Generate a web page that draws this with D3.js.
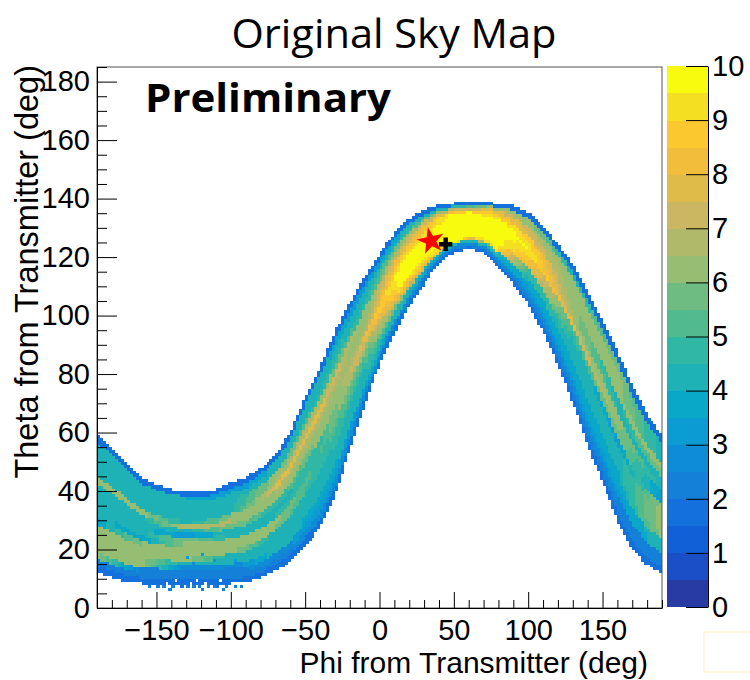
<!DOCTYPE html>
<html>
<head>
<meta charset="utf-8">
<script src="https://cdn.jsdelivr.net/npm/d3@7"></script>
<style>
  body { margin: 0; background: #ffffff; }
  svg { display: block; }
</style>
</head>
<body>
<svg id="chart" width="750" height="680"></svg>
<script>
// ---- sky-map data -------------------------------------------------------
// band edges (theta, deg) sampled every 10 deg of phi from -190 to 190
const edgePhi = d3.range(-190, 191, 10);
const lowerEdge = [12, 10.6, 9, 8.5, 8.5, 8.5, 8.5, 8.5, 8.5, 8.5, 8.8, 10.3, 13, 16, 21.5, 27.5,
  38, 54.8, 70, 83.6, 94.3, 103.6, 111.2, 118, 121.8, 123, 121.5, 116.5, 111, 103.8, 94.8, 83,
  70.2, 55, 43, 30.5, 20.4, 14.8, 12];
const upperEdge = [59, 55, 49.5, 44.5, 42, 40.5, 39.8, 39.6, 40.5, 42.8, 44.5, 48, 52, 60, 72,
  82.5, 94.5, 104.5, 113.5, 121, 128, 133, 136, 137.8, 138.5, 138.7, 138.7, 138.4, 137.5, 135,
  130.5, 124.5, 117.5, 107.7, 97.5, 87.5, 76, 66, 59];

// counts across the band (20 slices, lower edge -> upper edge) at a few phi columns
const profilePhi = [-190, -160, -130, -100, -70, -40, -10, 15, 50, 80, 100, 130, 160, 190];
const profileM190 = [1.8, 2.3, 6.2, 6.2, 6.2, 6.2, 6.2, 3.5, 4.3, 4.3, 4.3, 4.3, 4.3, 6.0, 4.3, 4.3, 4.3, 4.3, 4.3, 1.8];
const profileM160 = [1.8, 2.3, 2.3, 6.2, 6.2, 6.2, 6.2, 6.0, 3.5, 4.3, 4.3, 4.3, 4.3, 6.2, 4.3, 4.3, 4.3, 4.3, 4.3, 1.8];
const profileM130 = [1.8, 2.3, 2.3, 2.5, 4.0, 6.2, 6.2, 6.2, 6.2, 6.0, 3.2, 4.3, 6.8, 4.3, 4.3, 4.3, 4.3, 4.3, 4.0, 1.8];
const profileM100 = [1.8, 2.3, 2.3, 2.5, 4.3, 4.3, 6.2, 6.2, 6.2, 4.3, 4.5, 6.0, 6.5, 6.0, 4.3, 4.3, 4.3, 4.3, 3.0, 1.8];
const profileM70  = [1.8, 2.3, 2.8, 4.3, 4.3, 4.3, 4.3, 6.0, 6.2, 4.5, 4.3, 4.5, 6.2, 6.5, 7.6, 6.5, 6.2, 4.3, 4.3, 1.8];
const profileM40  = [1.8, 2.8, 3.3, 3.8, 4.3, 4.3, 4.3, 4.5, 4.7, 5.0, 4.8, 6.2, 6.5, 7.0, 7.7, 6.5, 4.7, 4.3, 4.3, 1.8];
const profileM10  = [1.8, 2.5, 3.5, 4.3, 4.3, 4.5, 5.0, 5.5, 6.2, 7.5, 8.0, 6.8, 6.2, 6.2, 6.2, 4.5, 4.3, 4.3, 3.0, 1.8];
const profileP15  = [1.8, 2.8, 4.3, 4.5, 6.2, 8.0, 8.8, 9.5, 9.8, 9.8, 9.8, 9.6, 9.2, 8.5, 7.5, 7.0, 6.0, 4.5, 4.0, 1.8];
const profileP50  = [1.8, 2.0, 2.5, 4.0, 9.8, 9.8, 9.8, 9.8, 9.8, 9.8, 9.8, 9.8, 9.8, 9.8, 9.8, 9.8, 8.5, 7.0, 4.5, 1.8];
const profileP80  = [1.8, 2.2, 2.5, 4.0, 4.5, 9.0, 9.6, 9.8, 9.8, 9.8, 9.8, 9.8, 9.8, 9.8, 9.8, 9.2, 8.5, 7.8, 6.5, 2.0];
const profileP100 = [1.8, 2.2, 2.5, 3.3, 3.5, 3.8, 4.7, 5.0, 8.0, 8.5, 8.8, 9.3, 9.5, 9.3, 8.8, 7.5, 7.2, 6.2, 6.2, 1.8];
const profileP130 = [1.8, 2.3, 2.8, 3.3, 3.5, 3.8, 4.3, 4.3, 4.3, 4.7, 5.0, 7.6, 6.5, 6.2, 6.2, 6.2, 6.2, 6.0, 4.3, 1.8];
const profileP160 = [1.8, 2.3, 2.5, 3.3, 3.5, 3.8, 4.3, 4.3, 4.3, 3.2, 6.0, 6.2, 6.2, 4.5, 4.3, 6.0, 6.2, 6.2, 6.0, 1.8];
const profileP190 = [1.8, 2.3, 2.3, 4.3, 4.3, 6.2, 6.2, 6.2, 6.2, 6.2, 3.2, 3.2, 4.3, 4.3, 6.0, 6.2, 4.3, 4.3, 4.3, 2.0];
const bandProfiles = [profileM190, profileM160, profileM130, profileM100, profileM70, profileM40,
  profileM10, profileP15, profileP50, profileP80, profileP100, profileP130, profileP160, profileP190];

// isolated low-count bins under the valley: [phi bin start, theta bin start, value]
const speckBins = [[-156, 7, 2.3], [-150, 7, 2.0], [-146, 7, 2.3], [-140, 7, 2.3], [-134, 7, 1.8],
  [-130, 7, 2.3], [-126, 7, 2.3], [-122, 7, 2.0], [-116, 7, 2.3], [-112, 7, 2.3], [-110, 7, 1.8],
  [-104, 7, 2.3], [-98, 7, 2.0], [-94, 7, 2.3], [-142, 6, 2.0], [-120, 6, 2.3], [-106, 6, 2.0],
  [-136, 14, 2.5], [-126, 15, 2.8], [-116, 13, 2.5], [-112, 16, 3.0], [-106, 14, 2.5],
  [-130, 17, 3.2], [-120, 18, 3.2], [-98, 16, 3.2]];
// empty bins along the ragged lower edge: [phi bin start, theta bin start]
const emptyBins = [[-144, 8], [-128, 8], [-118, 8], [-108, 9], [-100, 8], [-138, 9], [-124, 9]];

// source and reconstructed direction
const truthPoint = [34.5, 125.5];
const recoPoint = [44.5, 124.4];

// axes and palette
const xTicks = [-150, -100, -50, 0, 50, 100, 150];
const yTicks = [0, 20, 40, 60, 80, 100, 120, 140, 160, 180];
const zTicks = [0, 1, 2, 3, 4, 5, 6, 7, 8, 9, 10];
const birdPalette = ['#283ba4', '#1a4fc8', '#1060d8', '#1470dc', '#1480d8', '#0e8cd6', '#0c9cd4',
  '#0aa8c8', '#1eb2b6', '#30b8a4', '#52bb8e', '#6fbc82', '#95be72', '#b0b96a', '#cbb761',
  '#dfbb4a', '#f3bd3c', '#fcc830', '#f5df22', '#f9fb0e'];

// ---- drawing ------------------------------------------------------------
const svg = d3.select('#chart');
const x = d3.scaleLinear().domain([-190, 190]).range([97, 662]);
const y = d3.scaleLinear().domain([0, 185]).range([608, 67]);
const z = d3.scaleLinear().domain([0, 10]).range([607, 66]);
const color = d3.scaleQuantize().domain([0, 10]).range(birdPalette);

const lowerAt = d3.scaleLinear().domain(edgePhi).range(lowerEdge);
const upperAt = d3.scaleLinear().domain(edgePhi).range(upperEdge);
const sliceAt = d3.range(20).map(i =>
  d3.scaleLinear().domain(profilePhi).range(bandProfiles.map(p => p[i])));

// fill 2 deg x 1 deg bins inside the band
const binMap = new Map();
for (let p = -190; p < 190; p += 2) {
  const pc = p + 1;
  const lo = lowerAt(pc), hi = upperAt(pc);
  for (let t = 0; t < 185; t += 1) {
    const tc = t + 0.5;
    if (tc < lo || tc > hi) continue;
    const u = (tc - lo) / (hi - lo);
    const k = Math.min(19, Math.floor(u * 20));
    binMap.set(p + ':' + t, { phi: p, theta: t, value: sliceAt[k](pc) });
  }
}
speckBins.forEach(([p, t, v]) => binMap.set(p + ':' + t, { phi: p, theta: t, value: v }));
emptyBins.forEach(([p, t]) => binMap.delete(p + ':' + t));
const bins = Array.from(binMap.values());

svg.append('defs').append('clipPath').attr('id', 'frame-clip')
  .append('rect').attr('x', 97).attr('y', 67).attr('width', 565).attr('height', 541);

svg.append('g').attr('clip-path', 'url(#frame-clip)').attr('shape-rendering', 'crispEdges')
  .selectAll('rect').data(bins).join('rect')
  .attr('x', d => x(d.phi))
  .attr('y', d => y(d.theta + 1))
  .attr('width', d => x(d.phi + 2) - x(d.phi) + 0.4)
  .attr('height', d => y(d.theta) - y(d.theta + 1) + 0.4)
  .attr('fill', d => color(d.value));

// markers
svg.append('path')
  .attr('d', d3.symbol(d3.symbolStar, 230)())
  .attr('transform', `translate(${x(truthPoint[0])},${y(truthPoint[1])}) rotate(-12)`)
  .attr('fill', '#ff0000');
svg.append('path')
  .attr('d', d3.symbol(d3.symbolCross, 100)())
  .attr('transform', `translate(${x(recoPoint[0])},${y(recoPoint[1])})`)
  .attr('fill', '#000000');

// frame
svg.append('rect').attr('x', 97).attr('y', 67).attr('width', 565).attr('height', 541)
  .attr('fill', 'none').attr('stroke', '#555').attr('stroke-width', 1);

const tickFont = 'Liberation Sans, Arial, Helvetica, sans-serif';

// x axis: minor ticks every 10, major every 50
svg.append('g').attr('transform', 'translate(0,608)')
  .call(d3.axisBottom(x).tickValues(d3.range(-190, 191, 10).filter(v => v % 50 !== 0))
    .tickSizeInner(-8).tickSizeOuter(0).tickFormat(''))
  .call(g => g.select('.domain').remove());
svg.append('g').attr('transform', 'translate(0,608)')
  .call(d3.axisBottom(x).tickValues(xTicks).tickSizeInner(-16).tickSizeOuter(0)
    .tickPadding(11).tickFormat(d => d < 0 ? '\u2212' + Math.abs(d) : d))
  .call(g => g.select('.domain').attr('stroke', '#000'))
  .call(g => g.selectAll('text').attr('font-family', tickFont).attr('font-size', 29).attr('fill', '#000'));

// y axis: minor ticks every 5, major every 20
svg.append('g').attr('transform', 'translate(97,0)')
  .call(d3.axisLeft(y).tickValues(d3.range(0, 186, 5).filter(v => v % 20 !== 0))
    .tickSizeInner(-10).tickSizeOuter(0).tickFormat(''))
  .call(g => g.select('.domain').remove());
svg.append('g').attr('transform', 'translate(97,0)')
  .call(d3.axisLeft(y).tickValues(yTicks).tickSizeInner(-20).tickSizeOuter(0).tickPadding(0))
  .call(g => g.select('.domain').attr('stroke', '#000'))
  .call(g => g.selectAll('text').attr('x', -7).attr('text-anchor', 'end')
    .attr('font-family', tickFont).attr('font-size', 29).attr('fill', '#000'));

// colour scale
svg.append('g').attr('shape-rendering', 'crispEdges')
  .selectAll('rect').data(birdPalette).join('rect')
  .attr('x', 667).attr('width', 41)
  .attr('y', (c, i) => z((i + 1) * 0.5))
  .attr('height', (c, i) => z(i * 0.5) - z((i + 1) * 0.5) + 0.4)
  .attr('fill', c => c);
svg.append('g').attr('transform', 'translate(708,0)')
  .call(d3.axisRight(z).tickValues(zTicks).tickSizeInner(-22).tickSizeOuter(0).tickPadding(4))
  .call(g => g.select('.domain').attr('stroke', '#000'))
  .call(g => g.selectAll('text').attr('font-family', tickFont).attr('font-size', 29).attr('fill', '#000'));

// titles
svg.append('text').attr('x', 394).attr('y', 48).attr('text-anchor', 'middle')
  .attr('font-family', 'Open Sans, sans-serif').attr('font-size', 40)
  .attr('textLength', 325).attr('lengthAdjust', 'spacingAndGlyphs')
  .text('Original Sky Map');
svg.append('text').attr('x', 145).attr('y', 112)
  .attr('font-family', 'Open Sans, sans-serif').attr('font-weight', 'bold').attr('font-size', 40)
  .attr('textLength', 246).attr('lengthAdjust', 'spacingAndGlyphs')
  .text('Preliminary');
svg.append('text').attr('x', 648).attr('y', 673).attr('text-anchor', 'end')
  .attr('font-family', tickFont).attr('font-size', 30)
  .text('Phi from Transmitter (deg)');
svg.append('text').attr('transform', 'translate(38,65) rotate(-90)').attr('text-anchor', 'end')
  .attr('font-family', tickFont).attr('font-size', 32.5)
  .text('Theta from Transmitter (deg)');

// faint empty box in the lower-right corner
svg.append('rect').attr('x', 704).attr('y', 632).attr('width', 60).attr('height', 40)
  .attr('fill', 'none').attr('stroke', '#fbf5d6').attr('stroke-width', 1.5);
</script>
</body>
</html>
